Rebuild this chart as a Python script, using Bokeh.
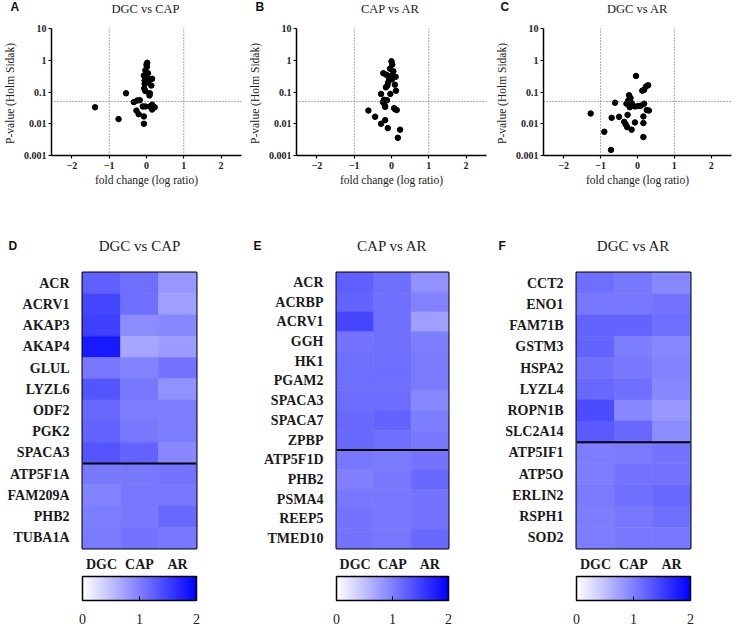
import numpy as np
from bokeh.plotting import figure
from bokeh.models import (Span, ColorBar, LinearColorMapper, FixedTicker, ColumnDataSource)
from bokeh.layouts import row, column
from bokeh.embed import file_html
from bokeh.resources import INLINE
from bokeh.core.properties import value

SERIF = "Liberation Serif"
SANS = "Liberation Sans"

# ---------------- volcano data ----------------
a_fc = [-1.38, -0.75, -0.55, -0.34, -0.25, -0.18, -0.27, -0.21, -0.10, -0.03, -0.07, -0.07,
        0.02, 0.00, -0.03, 0.04, -0.07, -0.03, 0.06, 0.15, -0.05, 0.13, -0.03, 0.09, 0.08,
        0.09, 0.15, 0.22, 0.15, -0.05, 0.04, 0.01, -0.06]
a_p = [0.033, 0.014, 0.091, 0.048, 0.054, 0.055, 0.026, 0.020, 0.035, 0.035, 0.017, 0.010,
       0.83, 0.73, 0.48, 0.39, 0.33, 0.28, 0.26, 0.26, 0.18, 0.16, 0.107, 0.091, 0.078,
       0.035, 0.040, 0.033, 0.028, 0.23, 0.20, 0.62, 0.13]

b_fc = [-0.62, -0.44, -0.28, -0.17, -0.10, 0.23, 0.17, -0.28, -0.23, -0.20, -0.18, -0.17,
        -0.03, 0.09, 0.14, 0.07, 0.00, 0.02, -0.04, 0.05, -0.22, -0.14, 0.00, 0.11, -0.06,
        -0.09, -0.11, 0.09, 0.12, 0.01, -0.15, -0.12]
b_p = [0.026, 0.0166, 0.010, 0.013, 0.0073, 0.0065, 0.0036, 0.087, 0.048, 0.057, 0.037, 0.034,
       0.087, 0.029, 0.027, 0.031, 0.93, 0.73, 0.54, 0.45, 0.39, 0.35, 0.33, 0.30, 0.26,
       0.20, 0.16, 0.17, 0.11, 0.25, 0.14, 0.055]

c_fc = [-1.27, -0.90, -0.72, -0.70, -0.61, -0.50, -0.36, -0.32, -0.28, -0.16, -0.27, -0.30,
        -0.23, -0.19, -0.25, -0.21, -0.16, -0.07, -0.04, 0.02, 0.09, 0.13, 0.18, 0.18, 0.16,
        0.16, 0.16, 0.23, 0.29, 0.25, 0.31, -0.07, -0.22]
c_p = [0.021, 0.0056, 0.0015, 0.0154, 0.046, 0.0165, 0.0115, 0.0095, 0.0078, 0.0065, 0.019, 0.043,
       0.079, 0.065, 0.054, 0.033, 0.045, 0.011, 0.32, 0.036, 0.037, 0.11, 0.117, 0.043, 0.017,
       0.0105, 0.0038, 0.148, 0.164, 0.027, 0.026, 0.035, 0.038]

x_ticks = [-2, -1, 0, 1, 2]
y_ticks = [0.001, 0.01, 0.1, 1, 10]
y_tick_labels = ["0.001", "0.01", "0.1", "1", "10"]

# ---------------- heatmap data ----------------
hm_cols = ["DGC", "CAP", "AR"]

d_genes = ["ACR", "ACRV1", "AKAP3", "AKAP4", "GLUL", "LYZL6", "ODF2", "PGK2", "SPACA3",
           "ATP5F1A", "FAM209A", "PHB2", "TUBA1A"]
d_dgc = [1.25, 1.45, 1.50, 1.80, 1.06, 1.33, 1.18, 1.22, 1.33, 1.06, 0.98, 1.02, 1.04]
d_cap = [1.14, 1.14, 0.90, 0.70, 0.98, 1.06, 1.02, 1.06, 1.22, 1.07, 1.06, 1.06, 1.10]
d_ar = [0.82, 0.75, 0.94, 0.78, 1.10, 0.86, 1.02, 1.02, 0.94, 1.10, 1.07, 1.18, 1.07]

e_genes = ["ACR", "ACRBP", "ACRV1", "GGH", "HK1", "PGAM2", "SPACA3", "SPACA7", "ZPBP",
           "ATP5F1D", "PHB2", "PSMA4", "REEP5", "TMED10"]
e_dgc = [1.25, 1.22, 1.45, 1.10, 1.12, 1.14, 1.15, 1.18, 1.18, 1.06, 1.00, 1.07, 1.10, 1.10]
e_cap = [1.14, 1.12, 1.12, 1.12, 1.14, 1.14, 1.15, 1.22, 1.14, 1.04, 1.06, 1.07, 1.06, 1.07]
e_ar = [0.86, 0.98, 0.75, 1.02, 1.04, 1.04, 0.94, 1.02, 1.06, 1.10, 1.18, 1.10, 1.10, 1.18]

f_genes = ["CCT2", "ENO1", "FAM71B", "GSTM3", "HSPA2", "LYZL4", "ROPN1B", "SLC2A14",
           "ATP5IF1", "ATP5O", "ERLIN2", "RSPH1", "SOD2"]
f_dgc = [1.14, 1.06, 1.22, 1.22, 1.12, 1.18, 1.41, 1.29, 1.02, 1.02, 1.04, 1.02, 1.02]
f_cap = [1.06, 1.06, 1.22, 1.02, 1.06, 1.12, 0.94, 1.18, 1.04, 1.10, 1.12, 1.07, 1.06]
f_ar = [0.94, 1.10, 1.12, 0.94, 0.98, 0.94, 0.82, 0.90, 1.10, 1.10, 1.18, 1.12, 1.07]

cbar_ticks = [0, 1, 2]

top_titles = ["DGC vs CAP", "CAP vs AR", "DGC vs AR"]
top_letters = ["A", "B", "C"]
bot_titles = ["DGC vs CAP", "CAP vs AR", "DGC vs AR"]
bot_letters = ["D", "E", "F"]

palette = ["#%02x%02x%02x" % (int(round(255 * (1 - i / 255))), int(round(255 * (1 - i / 255))), 255)
           for i in range(256)]

TOTAL_W = 741
HEAD1_H = 18
TOP_H = 218
HEAD2_H = 20
BOT_H = 375

# layout of the panels: (figure width, left border, right border)
top_geo = [(245, 49, 4), (245, 49, 4), (251, 53, 10)]
bot_geo = [(245, 82, 49), (245, 91, 42), (251, 86, 51)]


def header(height, geo, letters, titles, letter_dx, letter_top, title_top, title_size):
    p = figure(width=TOTAL_W, height=height, x_range=(0, TOTAL_W), y_range=(0, height),
               output_backend="svg", toolbar_location=None, min_border=0,
               x_axis_location=None, y_axis_location=None)
    p.grid.visible = False
    p.outline_line_color = None
    lx, tx = [], []
    x0 = 0
    for (w, l, r) in geo:
        lx.append(x0 + letter_dx)
        tx.append(x0 + l + (w - l - r) / 2)
        x0 += w
    p.text(x=lx, y=[height - letter_top] * len(lx), text=letters,
           text_font=value(SANS), text_font_style="bold", text_font_size="12px",
           text_align="left", text_baseline="middle", text_color="#111111")
    p.text(x=tx, y=[height - title_top] * len(tx), text=titles,
           text_font=value(SERIF), text_font_style="normal", text_font_size=title_size,
           text_align="center", text_baseline="middle", text_color="#222222")
    return p


def volcano(fc, pv, geo):
    width, left, right = geo
    top, fh = 10, 127
    p = figure(width=width, height=TOP_H, x_range=(-2.55, 2.55), y_range=(0.001, 10),
               y_axis_type="log", output_backend="svg", toolbar_location=None,
               min_border_left=left, min_border_right=right, min_border_top=top,
               min_border_bottom=TOP_H - top - fh)
    p.grid.visible = False
    p.outline_line_color = None
    for loc in (-1, 1):
        p.add_layout(Span(location=loc, dimension="height", line_color="#555555",
                          line_width=1, line_dash="1 2"))
    p.add_layout(Span(location=0.05, dimension="width", line_color="#555555",
                      line_width=1, line_dash="1 2"))
    p.scatter(fc, pv, size=5.5, color="black")
    p.xaxis.ticker = FixedTicker(ticks=x_ticks)
    p.yaxis.ticker = FixedTicker(ticks=y_ticks)
    p.yaxis.major_label_overrides = dict(zip(y_ticks, y_tick_labels))
    for ax in (p.xaxis[0], p.yaxis[0]):
        ax.axis_line_width = 1.5
        ax.axis_line_color = "black"
        ax.major_tick_line_color = "black"
        ax.major_tick_line_width = 1.2
        ax.major_tick_out = 3
        ax.major_tick_in = 0
        ax.minor_tick_line_color = None
        ax.major_label_text_font = SERIF
        ax.major_label_text_font_style = "bold"
        ax.major_label_text_font_size = "10px"
        ax.major_label_text_color = "#222222"
        ax.axis_label_text_font = SERIF
        ax.axis_label_text_font_style = "normal"
        ax.axis_label_text_font_size = "11.5px"
        ax.axis_label_text_color = "#222222"
    p.xaxis.axis_label = "fold change (log ratio)"
    p.yaxis.axis_label = "P-value (Holm  Sidak)"
    p.xaxis.major_label_standoff = 3
    p.yaxis.major_label_standoff = 2
    p.xaxis.axis_label_standoff = 2
    p.yaxis.axis_label_standoff = 5
    return p


def heatmap(genes, dgc, cap, ar, n_top, geo, top, fh):
    width, left, right = geo
    ys = list(reversed(genes))
    fw = width - left - right
    p = figure(width=width, height=BOT_H, x_range=hm_cols, y_range=ys,
               output_backend="svg", toolbar_location=None,
               min_border_left=left, min_border_right=right, min_border_top=top,
               min_border_bottom=BOT_H - top - fh)
    mapper = LinearColorMapper(palette=palette, low=0, high=2)
    xs, yy, vv = [], [], []
    for g, a, b, c in zip(genes, dgc, cap, ar):
        for col, v in zip(hm_cols, (a, b, c)):
            xs.append(col)
            yy.append(g)
            vv.append(v)
    src = ColumnDataSource(dict(x=xs, y=yy, v=vv))
    p.rect(x="x", y="y", width=1, height=1, source=src,
           fill_color={"field": "v", "transform": mapper},
           line_color={"field": "v", "transform": mapper}, line_width=0.6)
    p.add_layout(Span(location=len(genes) - n_top, dimension="width",
                      line_color="black", line_width=2))
    p.grid.visible = False
    p.outline_line_color = "black"
    p.outline_line_width = 2
    for ax in (p.xaxis[0], p.yaxis[0]):
        ax.axis_line_color = None
        ax.major_tick_line_color = None
        ax.minor_tick_line_color = None
        ax.major_label_text_font = SERIF
        ax.major_label_text_font_style = "bold"
        ax.major_label_text_font_size = "14px"
        ax.major_label_text_color = "#1a1a1a"
    p.yaxis.major_label_standoff = 7
    p.xaxis.major_label_standoff = 2
    # thin invisible spacer between column labels and colour bar
    p.xaxis.axis_label = " "
    p.xaxis.axis_label_text_font_size = "2px"
    p.xaxis.axis_label_standoff = -3
    cb = ColorBar(color_mapper=mapper, orientation="horizontal", width=fw,
                  height=24, ticker=FixedTicker(ticks=cbar_ticks), padding=0, margin=0,
                  location=(0, 0), bar_line_color="black", bar_line_width=1.5,
                  major_tick_line_color="black", major_tick_in=4, major_tick_out=0,
                  major_label_text_font=SERIF, major_label_text_font_size="14px",
                  major_label_text_color="#222222", label_standoff=13,
                  border_line_color=None, background_fill_color=None)
    p.add_layout(cb, "below")
    return p


h1 = header(HEAD1_H, top_geo, top_letters, top_titles, 10, 6.5, 8.5, "12.5px")
pA = volcano(a_fc, a_p, top_geo[0])
pB = volcano(b_fc, b_p, top_geo[1])
pC = volcano(c_fc, c_p, top_geo[2])

h2 = header(HEAD2_H, bot_geo, bot_letters, bot_titles, 8, 9, 9, "15px")
pD = heatmap(d_genes, d_dgc, d_cap, d_ar, 9, bot_geo[0], 13, 279)
pE = heatmap(e_genes, e_dgc, e_cap, e_ar, 9, bot_geo[1], 13, 279)
pF = heatmap(f_genes, f_dgc, f_cap, f_ar, 8, bot_geo[2], 16, 277)

layout = column(h1, row(pA, pB, pC, spacing=0), h2, row(pD, pE, pF, spacing=0), spacing=0)
open("out.html", "w").write(file_html(layout, INLINE))
